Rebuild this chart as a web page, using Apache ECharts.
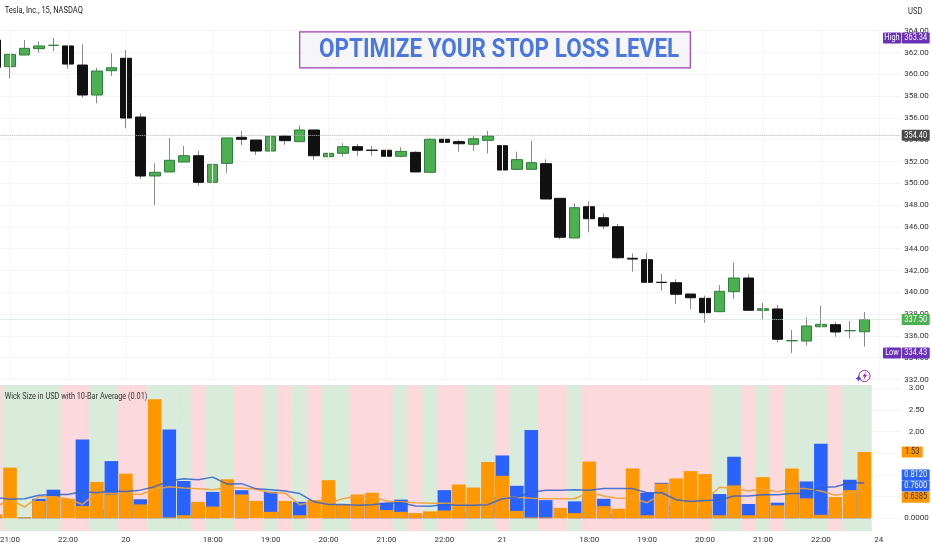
<!DOCTYPE html>
<html><head><meta charset="utf-8">
<style>html,body{margin:0;padding:0;background:#fff}#c{width:932px;height:550px}</style>
<script src="https://cdn.jsdelivr.net/npm/echarts@6/dist/echarts.min.js"></script>
</head><body><div id="c"></div>
<script>
const timeLabels = ['', '21:00','','','','22:00','','','','20','','','','','','18:00','','','','19:00','','','','20:00','','','','21:00','','','','22:00','','','','21','','','','','','18:00','','','','19:00','','','','20:00','','','','21:00','','','','22:00','','','','24',''];
const opens  = [363.15,360.70,361.77,362.35,362.65,362.60,360.85,358.10,360.33,361.47,356.08,350.67,351.04,351.95,352.53,350.09,351.83,354.22,353.97,352.96,354.34,353.82,354.89,352.44,352.75,353.36,353.04,353.03,352.48,352.84,351.01,354.04,353.82,353.58,353.94,353.45,351.28,351.28,351.80,348.62,344.98,347.85,346.84,346.02,343.12,342.99,340.92,340.88,339.84,339.45,338.22,340.06,341.31,338.35,338.47,335.55,335.53,336.84,337.03,336.47,336.38];
const closes = [360.64,361.83,362.38,362.60,362.67,360.94,358.10,360.30,360.60,355.99,350.67,351.01,352.11,352.53,350.09,351.74,354.16,354.04,352.96,354.31,353.91,354.89,352.53,352.75,353.36,353.03,353.02,352.48,352.93,351.04,354.04,353.76,353.63,354.09,354.34,351.22,352.17,351.89,348.56,345.05,347.76,346.75,346.08,343.17,343.05,340.92,340.90,339.82,339.50,338.13,340.09,341.31,338.35,338.49,335.69,335.57,336.91,337.06,336.36,336.49,337.50];
const lows   = [360.60,359.63,361.77,361.98,362.11,360.51,357.85,357.34,359.84,355.05,350.42,348.01,351.04,351.95,349.78,349.84,350.97,353.51,352.60,352.87,353.54,353.82,352.14,351.68,352.44,352.53,352.53,352.35,352.41,351.04,351.01,353.76,352.90,352.96,352.75,350.24,351.19,351.28,348.56,344.86,344.98,345.50,345.81,343.05,341.89,340.92,340.15,338.93,338.44,337.21,338.22,339.39,338.35,337.46,335.41,334.43,335.10,336.84,335.93,335.78,335.01];
const highs  = [363.20,361.83,363.15,363.03,363.34,362.60,362.75,360.60,361.93,362.23,356.42,351.83,354.16,353.42,352.99,352.39,354.16,354.81,353.97,354.95,354.46,355.28,354.89,353.21,353.67,353.60,353.42,353.39,353.30,352.93,354.13,354.64,353.97,354.34,354.81,354.89,352.90,353.91,352.20,348.62,348.16,348.38,347.25,346.27,343.58,343.63,341.68,341.19,339.84,339.69,340.67,342.75,341.65,339.04,338.83,336.54,337.71,338.77,337.27,337.37,338.19];
const upperWick = [0.05,0,0.02,0.45,0.66,0,1.82,0.2,1.32,0.7,0.44,0.8,2.05,0.86,0.36,0.61,0,0.65,0,0.61,0.15,0.38,0,0.5,0.30,0.27,0.42,0.36,0.43,0.10,0.09,0.65,0.15,0.3,0.5,1.45,0.75,2.04,0.42,0,0.39,0.5,0.45,0.1,0.38,0.59,0.82,0.3,0.1,0.25,0.56,1.42,0.33,0.5,0.36,0.9,0.85,1.72,0.2,0.89,0.76];
const lowerWick = [0.09,1.17,0.02,0.40,0.50,0.45,0.285,0.84,0.55,1.03,0.32,2.75,0.02,0.07,0.38,0.27,0.90,0.55,0.40,0.15,0.40,0.07,0.42,0.88,0.32,0.55,0.59,0.19,0.15,0.12,0.16,0.18,0.78,0.71,1.30,0.98,0.17,0.02,0.02,0.24,0.12,1.31,0.28,0.22,1.15,0.07,0.80,0.92,1.09,1.02,0.07,0.76,0.07,0.95,0.30,1.15,0.46,0.08,0.49,0.65,1.53];
const upperAvg = [0.48,0.44,0.45,0.53,0.55,0.55,0.62,0.59,0.63,0.62,0.65,0.73,0.86,0.915,0.89,0.95,0.79,0.80,0.68,0.66,0.63,0.57,0.38,0.32,0.32,0.30,0.315,0.35,0.36,0.285,0.28,0.32,0.30,0.30,0.315,0.45,0.485,0.60,0.65,0.65,0.66,0.65,0.69,0.69,0.685,0.59,0.59,0.43,0.39,0.41,0.42,0.515,0.515,0.545,0.545,0.57,0.575,0.71,0.73,0.82,0.812];
const lowerAvg = [0.25,0.44,0.26,0.50,0.50,0.45,0.32,0.59,0.575,0.575,0.55,0.67,0.73,0.70,0.68,0.66,0.71,0.70,0.67,0.59,0.58,0.315,0.38,0.35,0.45,0.515,0.50,0.40,0.38,0.36,0.35,0.35,0.34,0.33,0.32,0.48,0.485,0.46,0.45,0.45,0.45,0.60,0.515,0.46,0.46,0.36,0.55,0.42,0.39,0.41,0.715,0.69,0.63,0.69,0.61,0.685,0.685,0.63,0.53,0.59,0.6385];
const priceTags = [
  {value:363.34, text:'363.34', side:'High', bg:'#6a32b8', fg:'#fff', dy:0},
  {value:354.40, text:'354.40', bg:'#4a4a4a', fg:'#fff', dy:0},
  {value:337.50, text:'337.50', bg:'#4caf50', fg:'#fff', dy:0},
  {value:334.43, text:'334.43', side:'Low', bg:'#6a32b8', fg:'#fff', dy:0}
];
const wickTags = [
  {value:1.53, text:'1.53', bg:'#ff9800', fg:'#333', dy:0, w:21},
  {value:0.812, text:'0.8120', bg:'#2962ff', fg:'#fff', dy:-8},
  {value:0.76, text:'0.7600', bg:'#2962ff', fg:'#fff', dy:0.6},
  {value:0.6385, text:'0.6385', bg:'#ff9800', fg:'#333', dy:6.5}
];
const FONT = 'Roboto,sans-serif';
const GREEN='#4caf50', GREEN_B='#2f7d3a', BLACK='#111111', WICK='#8a8a8a';
const left=-11.7, width=912.2;
const grid = '#f3f3f3';
const vLines = timeLabels.map((t,i)=>t?{xAxis:i}:null).filter(Boolean);

const chart = echarts.init(document.getElementById('c'),null,{renderer:'canvas'});
const xAx = (g,show)=>({type:'category',gridIndex:g,data:timeLabels,boundaryGap:true,
  axisLine:{show:false},axisTick:{show:false},splitLine:{show:false},
  axisLabel:{show:show,interval:0,margin:5,fontFamily:FONT,fontSize:8,color:'#333',hideOverlap:false}});
chart.setOption({
  animation:false,backgroundColor:'#fff',
  grid:[
    {left,width,top:30.7,height:348.8,outerBoundsMode:'none'},
    {left,width,top:385,height:146,outerBoundsMode:'none'},
    {left,width,top:388.3,height:130,outerBoundsMode:'none'}
  ],
  xAxis:[xAx(0,false),xAx(1,true),xAx(2,false)],
  yAxis:[
    {type:'value',gridIndex:0,position:'right',min:332,max:364,interval:2,
     axisLine:{show:false},axisTick:{show:false},splitLine:{lineStyle:{color:grid,width:1}},
     axisLabel:{margin:16,align:'center',fontFamily:FONT,fontSize:8,color:'#333',formatter:v=>v.toFixed(2)}},
    {type:'value',gridIndex:1,min:0,max:1,show:false},
    {type:'value',gridIndex:2,position:'right',min:0,max:3,interval:0.5,
     axisLine:{show:false},axisTick:{show:false},splitLine:{lineStyle:{color:grid,width:1}},
     axisLabel:{margin:16,align:'center',fontFamily:FONT,fontSize:8,color:'#333',
       formatter:v=>v===0?'0.0000':(v>=2?v.toFixed(2):'')}}
  ],
  series:[
    {name:'Wicks',type:'candlestick',xAxisIndex:0,yAxisIndex:0,barWidth:1,z:2,clip:false,
     data:opens.map((o,i)=>[o,closes[i],lows[i],highs[i]]),
     itemStyle:{color:WICK,color0:WICK,borderColor:WICK,borderColor0:WICK,borderWidth:1},
     markLine:{silent:true,symbol:'none',label:{show:false},animation:false,
       data:vLines.map(d=>({xAxis:d.xAxis,lineStyle:{color:'#f6f6f6',width:1,type:'solid'}}))
        .concat([{yAxis:354.40,lineStyle:{color:'#b5b5b5',width:1,type:'dotted'}},
                 {yAxis:337.50,lineStyle:{color:'#c9d6c9',width:1,type:'dotted'}}])}},
    {name:'Tesla',type:'candlestick',xAxisIndex:0,yAxisIndex:0,barWidth:11,z:3,clip:false,
     data:opens.map((o,i)=>[o,closes[i],Math.min(o,closes[i]),Math.max(o,closes[i])]),
     itemStyle:{color:GREEN,color0:BLACK,borderColor:GREEN_B,borderColor0:BLACK,borderWidth:1}},
    {name:'Direction',type:'bar',xAxisIndex:1,yAxisIndex:1,barWidth:15,z:1,silent:true,
     data:opens.map(()=>1),
     itemStyle:{color:p=>closes[p.dataIndex]>=opens[p.dataIndex]?'#d9ecdc':'#fcd9dd'}},
    {name:'Upper wick',type:'bar',xAxisIndex:2,yAxisIndex:2,barWidth:13.6,barGap:'-100%',z:3,data:upperWick,itemStyle:{color:'#2962ff'}},
    {name:'Lower wick',type:'bar',xAxisIndex:2,yAxisIndex:2,barWidth:13.6,barGap:'-100%',z:3,data:lowerWick,itemStyle:{color:'#ff9800'}},
    {name:'Upper avg',type:'line',xAxisIndex:2,yAxisIndex:2,z:5,symbol:'none',data:upperAvg,lineStyle:{color:'#2f5fd0',width:1.5,opacity:0.85}},
    {name:'Lower avg',type:'line',xAxisIndex:2,yAxisIndex:2,z:4,symbol:'none',data:lowerAvg,lineStyle:{color:'#f2a033',width:1.5,opacity:0.9}}
  ]
});
const H=11, X=901.7, W=28;
const els=[];
function label(text,x,y,size,color,sx,align,weight){
  els.push({type:'text',z:101,x,y,scaleX:sx,style:{text,fill:color,font:(weight||'normal')+' '+size+'px '+FONT,align:align||'left',verticalAlign:'middle'}});
}
function tag(t,axisIndex){
  const y=chart.convertToPixel({yAxisIndex:axisIndex},t.value)+t.dy;
  const w=t.w||W;
  els.push({type:'rect',z:100,shape:{x:X,y:y-H/2,width:w,height:H,r:1},style:{fill:t.bg}});
  label(t.text,X+w/2,y,9,t.fg,0.82,'center');
  if(t.side){
    els.push({type:'rect',z:100,shape:{x:883,y:y-H/2,width:18,height:H,r:1},style:{fill:t.bg}});
    label(t.side,892,y,9,t.fg,0.82,'center');
  }
}
priceTags.forEach(t=>tag(t,0));
wickTags.forEach(t=>tag(t,2));
els.push({type:'rect',z:90,shape:{x:299.7,y:31.9,width:390.6,height:36},style:{fill:'#f6f6f9',stroke:'#9c3fb0',lineWidth:1.2}});
label('OPTIMIZE YOUR STOP LOSS LEVEL',319,50.5,26,'#4a78e0',0.865,'left','bold');
label('Tesla, Inc., 15, NASDAQ',4.7,11,9,'#222',0.835);
label('USD',908,12,8.5,'#333',0.9);
label('Wick Size in USD with 10-Bar Average (0.01)',4.7,396.5,9,'#333',0.815);
els.push({type:'circle',z:100,shape:{cx:864.5,cy:376,r:5.6},style:{fill:'#fff',stroke:'#9c27b0',lineWidth:1}});
els.push({type:'polygon',z:101,shape:{points:[[866,371.5],[862.6,376.6],[864.6,376.6],[863.4,380.5],[867,375],[865,375]]},style:{fill:'#9c27b0'}});
els.push({type:'polygon',z:102,shape:{points:[[858.5,375.5],[859.6,377.6],[861.5,378.5],[859.6,379.4],[858.5,381.5],[857.4,379.4],[855.5,378.5],[857.4,377.6]]},style:{fill:'#5a3fd0'}});
chart.setOption({graphic:els});
</script></body></html>
